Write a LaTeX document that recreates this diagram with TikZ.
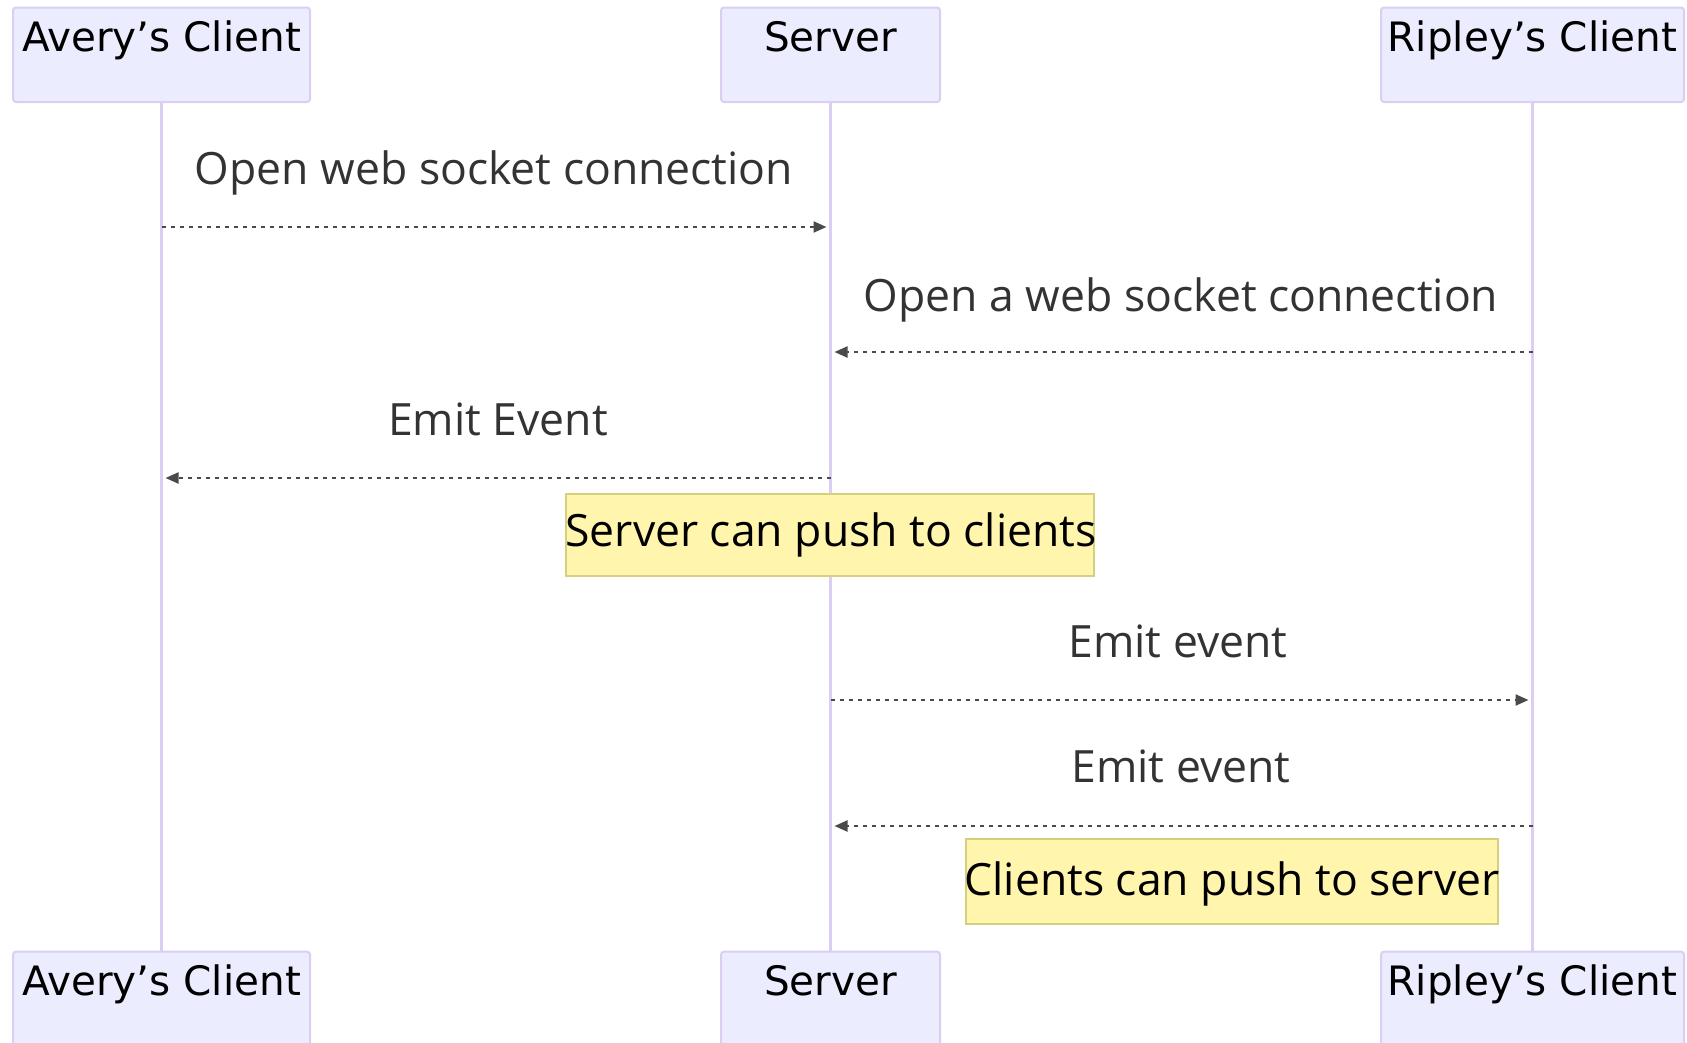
\documentclass[tikz,border=0pt]{standalone}
\usepackage{fontspec}
\setmainfont{Open Sans}
\newfontfamily\actorfont{DejaVu Sans}
\usetikzlibrary{arrows.meta}
\definecolor{actfill}{HTML}{ECECFF}
\definecolor{actline}{HTML}{DACEF3}
\definecolor{notefill}{HTML}{FFF5AD}
\definecolor{noteline}{HTML}{D6CF7C}
\definecolor{msgtext}{HTML}{333333}
\definecolor{msgline}{HTML}{4A4A4A}
\begin{document}
\begin{tikzpicture}[x=1pt,y=-1pt,
  actorbox/.style={draw=actline, fill=actfill, line width=2pt, rounded corners=3pt,
    minimum width=#1, minimum height=94.5pt, inner sep=0pt},
  actortext/.style={anchor=base, inner sep=0pt, text=black,
    font=\actorfont\fontsize{40.5}{47}\selectfont},
  lifeline/.style={draw=actline, line width=3pt},
  msgarrow/.style={draw=msgline, line width=2.2pt, dash pattern=on 4pt off 5pt,
    -{Triangle[length=13pt,width=11pt]}, shorten >=4pt},
  msglabel/.style={anchor=base, inner sep=0pt, text=msgtext,
    font=\fontsize{44.5}{52}\selectfont},
  notebox/.style={draw=noteline, fill=notefill, line width=2.5pt, inner sep=0pt},
  notetext/.style={anchor=base, inner sep=0pt, text=black,
    font=\fontsize{44.5}{52}\selectfont}]
\useasboundingbox (0,0) rectangle (1687,1042);

% actor boxes (top and bottom), placed first for naming
\path (161.5,54.75) node[actorbox=297pt, draw=none, fill=none] (avT) {};
\path (830.5,54.75) node[actorbox=219pt, draw=none, fill=none] (svT) {};
\path (1532.5,54.75) node[actorbox=303pt, draw=none, fill=none] (rpT) {};
\path (161.5,998.9) node[actorbox=297pt, draw=none, fill=none] (avB) {};
\path (830.5,998.9) node[actorbox=219pt, draw=none, fill=none] (svB) {};
\path (1532.5,998.9) node[actorbox=303pt, draw=none, fill=none] (rpB) {};

% lifelines
\draw[lifeline] (avT.south) -- (avB.north);
\draw[lifeline] (svT.south) -- (svB.north);
\draw[lifeline] (rpT.south) -- (rpB.north);

% visible actor boxes
\node[actorbox=297pt] (avTbox) at (avT) {};
\node[actorbox=219pt] (svTbox) at (svT) {};
\node[actorbox=303pt] (rpTbox) at (rpT) {};
\node[actorbox=297pt] (avBbox) at (avB) {};
\node[actorbox=219pt] (svBbox) at (svB) {};
\node[actorbox=303pt] (rpBbox) at (rpB) {};

\node[actortext] (avTt) at (161.5,51) {Avery’s Client};
\node[actortext] (svTt) at (830.5,51) {Server};
\node[actortext] (rpTt) at (1532.5,51) {Ripley’s Client};
\node[actortext] (avBt) at (161.5,995.5) {Avery’s Client};
\node[actortext] (svBt) at (830.5,995.5) {Server};
\node[actortext] (rpBt) at (1532.5,995.5) {Ripley’s Client};

% message rows
\coordinate (r1) at (0,227);
\coordinate (r2) at (0,352);
\coordinate (r3) at (0,478);
\coordinate (r4) at (0,700);
\coordinate (r5) at (0,826);

\node[msglabel] (l1) at (494,184) {Open web socket connection};
\draw[msgarrow] (avT.south |- r1) -- (svT.south |- r1);

\node[msglabel] (l2) at (1181,311) {Open a web socket connection};
\draw[msgarrow] (rpT.south |- r2) -- (svT.south |- r2);

\node[msglabel] (l3) at (498,435) {Emit Event};
\draw[msgarrow] (svT.south |- r3) -- (avT.south |- r3);

% note 1
\node[notebox, minimum width=528pt, minimum height=82pt] (n1) at (830,535) {};
\node[notetext] (n1t) at (831,546.7) {Server can push to clients};

\node[msglabel] (l4) at (1178,657) {Emit event};
\draw[msgarrow] (svT.south |- r4) -- (rpT.south |- r4);

\node[msglabel] (l5) at (1181,782.5) {Emit event};
\draw[msgarrow] (rpT.south |- r5) -- (svT.south |- r5);

% note 2
\node[notebox, minimum width=532pt, minimum height=85pt] (n2) at (1232,881.5) {};
\node[notetext] (n2t) at (1232,895) {Clients can push to server};
\end{tikzpicture}
\end{document}
